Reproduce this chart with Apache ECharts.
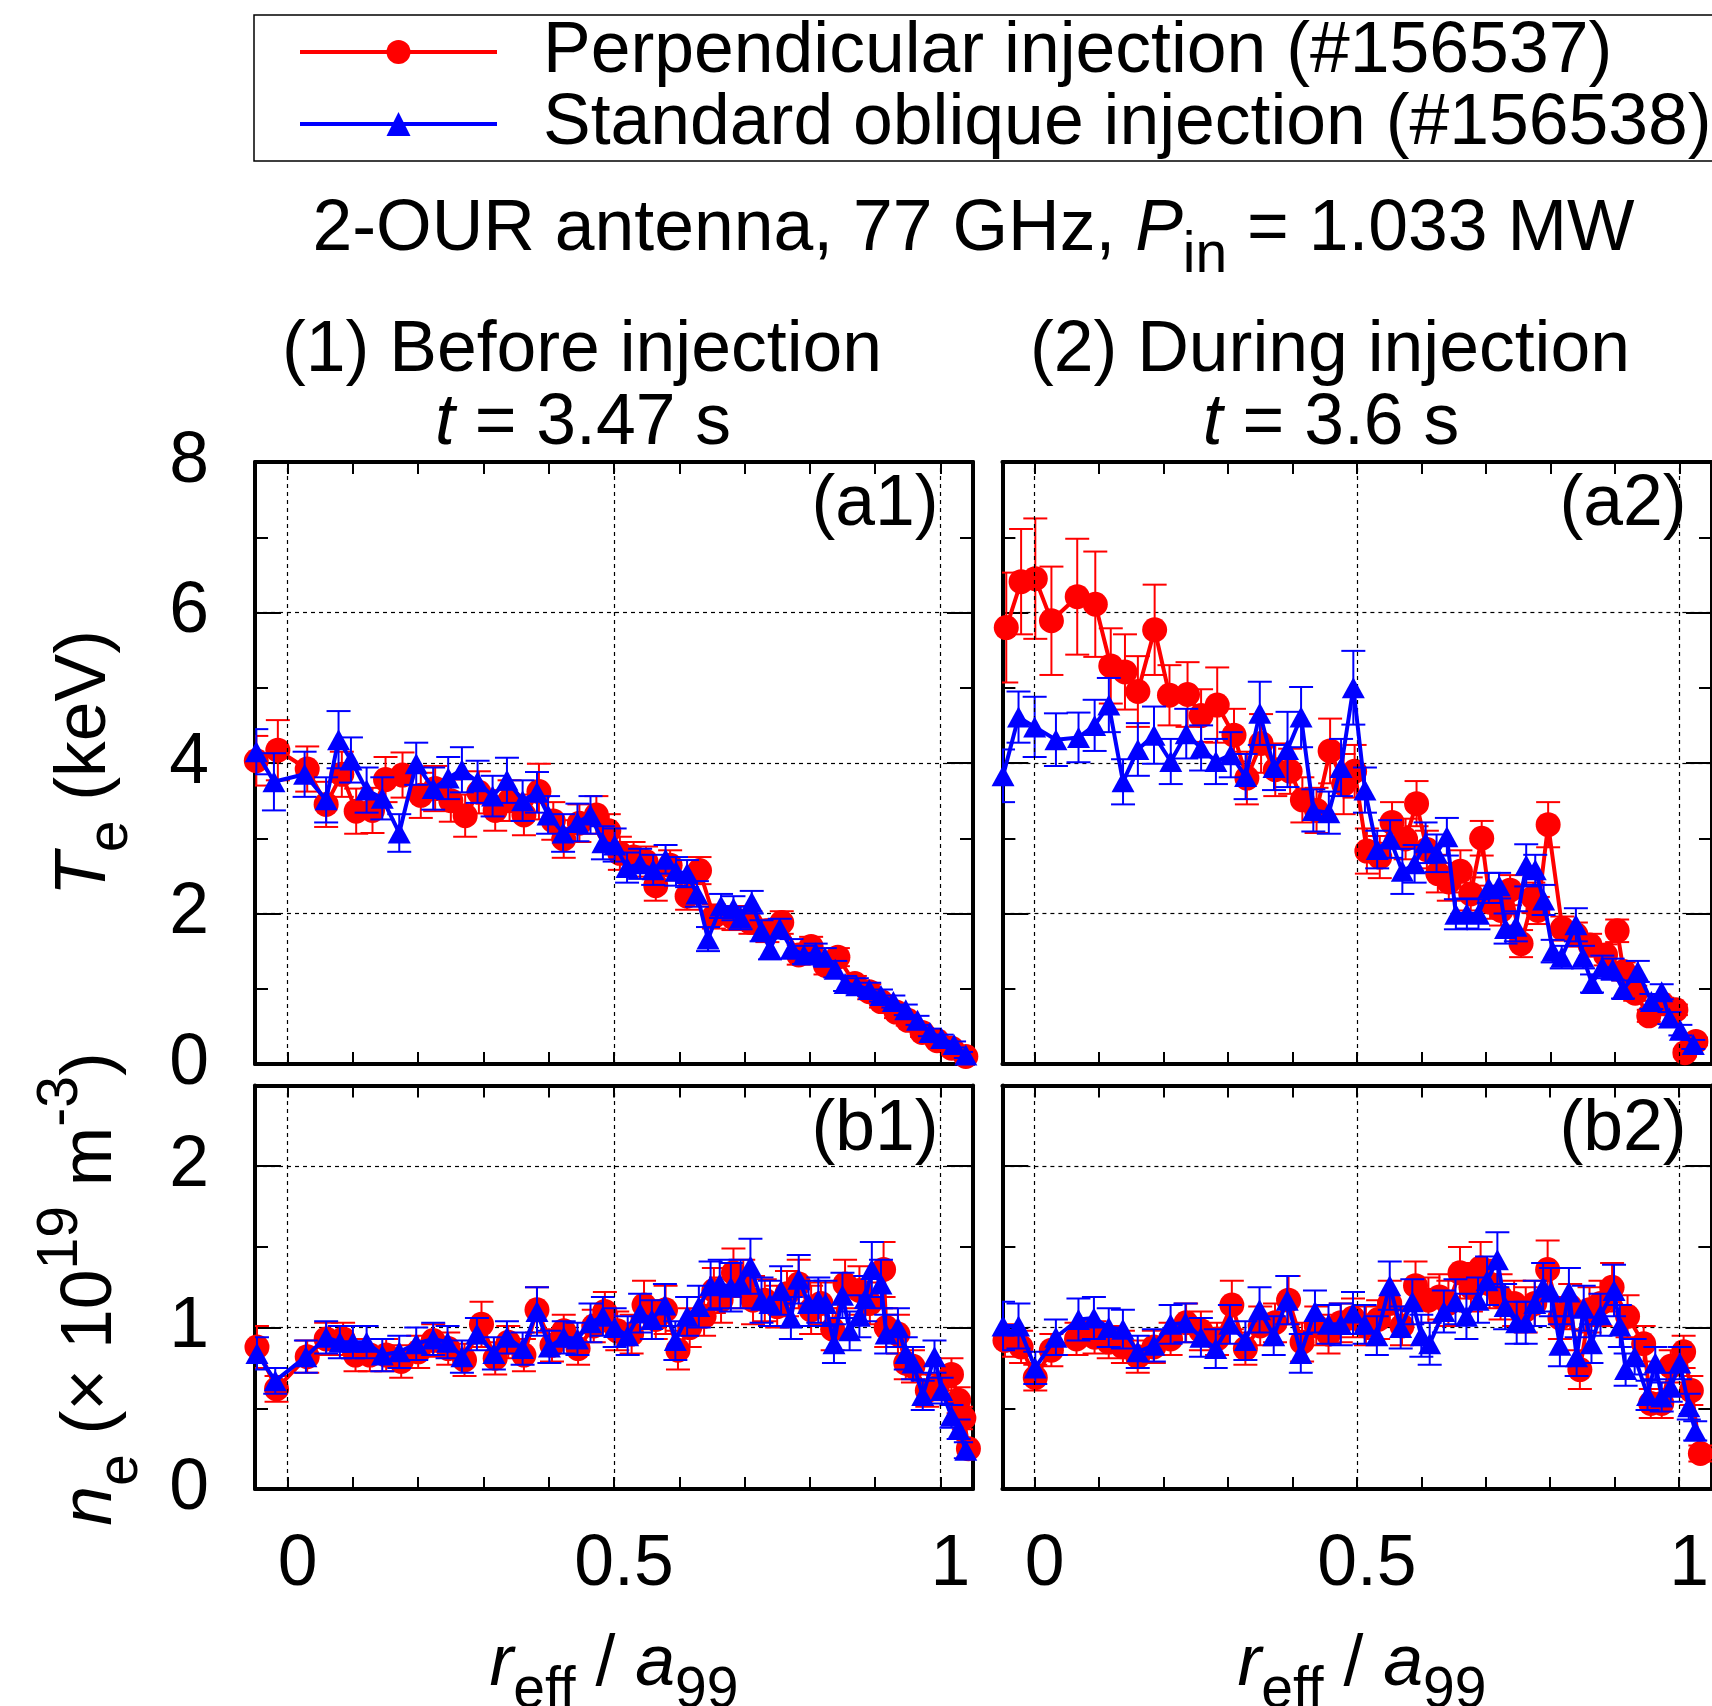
<!DOCTYPE html>
<html style="height: 100%">
<head>
<meta charset="utf-8">
<title></title>
<script type="text/javascript" src="https://cdn.jsdelivr.net/npm/echarts@6/dist/echarts.min.js"></script>
</head>
<body style="height: 100%; margin: 0">
<div id="container" style="width: 1712px; height: 1706px"></div>
<script type="text/javascript">
var FONT = 'Liberation Sans, Arial, Helvetica, sans-serif';
var FS = 71.5;
var RED = '#ff0000', BLUE = '#0000ff';
var redName = 'Perpendicular injection (#156537)';
var blueName = 'Standard oblique injection (#156538)';

// [r_eff/a99, value, error]
var teBeforeRed = [[-0.048,4.03,0.33],[-0.015,4.17,0.4],[0.03,3.92,0.3],[0.059,3.45,0.3],[0.083,3.85,0.3],[0.105,3.36,0.3],[0.13,3.37,0.3],[0.15,3.78,0.3],[0.176,3.84,0.3],[0.204,3.57,0.3],[0.226,3.66,0.3],[0.25,3.5,0.28],[0.272,3.3,0.28],[0.293,3.61,0.28],[0.318,3.37,0.27],[0.34,3.5,0.27],[0.362,3.31,0.27],[0.385,3.62,0.37],[0.407,3.23,0.25],[0.423,2.99,0.25],[0.447,3.2,0.25],[0.473,3.31,0.25],[0.492,3.1,0.22],[0.509,2.8,0.22],[0.53,2.75,0.2],[0.549,2.69,0.2],[0.564,2.37,0.2],[0.586,2.64,0.2],[0.612,2.23,0.18],[0.631,2.57,0.18],[0.653,1.96,0.16],[0.683,1.94,0.16],[0.709,1.88,0.15],[0.735,1.77,0.15],[0.757,1.88,0.15],[0.783,1.45,0.13],[0.802,1.56,0.13],[0.824,1.31,0.12],[0.843,1.42,0.12],[0.869,1.07,0.1],[0.891,0.96,0.1],[0.909,0.83,0.08],[0.932,0.69,0.08],[0.95,0.58,0.07],[0.972,0.42,0.06],[0.995,0.31,0.05],[1.017,0.21,0.05],[1.039,0.1,0.04]];
var teBeforeBlue = [[-0.048,4.15,0.3],[-0.021,3.75,0.38],[0.026,3.85,0.3],[0.059,3.51,0.3],[0.078,4.31,0.38],[0.097,4.04,0.3],[0.121,3.64,0.3],[0.145,3.53,0.28],[0.171,3.07,0.25],[0.197,3.99,0.28],[0.223,3.66,0.28],[0.246,3.8,0.28],[0.267,3.91,0.3],[0.291,3.75,0.28],[0.314,3.56,0.27],[0.336,3.77,0.3],[0.36,3.5,0.27],[0.382,3.61,0.27],[0.399,3.31,0.25],[0.422,3.07,0.25],[0.444,3.21,0.25],[0.464,3.31,0.25],[0.483,2.94,0.22],[0.501,2.91,0.22],[0.52,2.61,0.2],[0.54,2.66,0.2],[0.56,2.58,0.2],[0.579,2.72,0.19],[0.595,2.56,0.19],[0.612,2.53,0.18],[0.627,2.26,0.17],[0.644,1.66,0.16],[0.664,2.1,0.16],[0.683,2.07,0.16],[0.694,1.94,0.15],[0.711,2.15,0.15],[0.726,1.77,0.14],[0.739,1.53,0.14],[0.754,1.8,0.13],[0.772,1.53,0.13],[0.791,1.45,0.12],[0.809,1.48,0.12],[0.823,1.42,0.12],[0.839,1.26,0.11],[0.854,1.07,0.1],[0.872,1.04,0.1],[0.891,0.99,0.09],[0.909,0.91,0.08],[0.928,0.83,0.08],[0.947,0.72,0.07],[0.965,0.58,0.06],[0.984,0.42,0.05],[1.002,0.34,0.05],[1.021,0.26,0.04],[1.039,0.12,0.04]];
var teDuringRed = [[-0.044,5.8,0.73],[-0.021,6.41,0.7],[0.001,6.45,0.8],[0.026,5.89,0.72],[0.066,6.21,0.77],[0.094,6.11,0.7],[0.118,5.29,0.5],[0.14,5.21,0.5],[0.16,4.95,0.47],[0.186,5.77,0.6],[0.209,4.9,0.4],[0.237,4.91,0.43],[0.258,4.63,0.35],[0.283,4.77,0.5],[0.309,4.37,0.35],[0.329,3.8,0.35],[0.351,4.26,0.39],[0.373,3.91,0.35],[0.396,3.89,0.3],[0.415,3.51,0.3],[0.437,3.37,0.3],[0.458,4.16,0.43],[0.479,3.72,0.4],[0.496,3.89,0.35],[0.515,2.83,0.3],[0.535,2.75,0.28],[0.554,3.21,0.27],[0.575,2.99,0.27],[0.592,3.46,0.3],[0.608,2.85,0.25],[0.625,2.53,0.25],[0.642,2.42,0.25],[0.66,2.56,0.28],[0.676,2.26,0.22],[0.693,3.0,0.23],[0.706,2.15,0.22],[0.723,2.04,0.2],[0.737,2.31,0.2],[0.754,1.6,0.18],[0.773,2.21,0.2],[0.78,2.04,0.18],[0.796,3.18,0.3],[0.818,1.8,0.16],[0.839,1.72,0.16],[0.861,1.58,0.15],[0.885,1.45,0.14],[0.903,1.77,0.15],[0.913,1.23,0.12],[0.931,0.94,0.1],[0.952,0.64,0.08],[0.973,0.8,0.08],[0.994,0.72,0.07],[1.008,0.15,0.05],[1.025,0.3,0.05]];
var teDuringBlue = [[-0.049,3.83,0.35],[-0.025,4.61,0.34],[0.0,4.48,0.4],[0.033,4.31,0.35],[0.068,4.34,0.33],[0.093,4.5,0.34],[0.115,4.77,0.36],[0.137,3.75,0.3],[0.16,4.18,0.35],[0.185,4.37,0.38],[0.211,4.02,0.3],[0.235,4.39,0.33],[0.258,4.2,0.3],[0.281,4.02,0.3],[0.304,4.11,0.3],[0.327,3.82,0.3],[0.349,4.66,0.42],[0.371,3.94,0.3],[0.392,4.18,0.5],[0.413,4.61,0.4],[0.432,3.37,0.28],[0.456,3.34,0.28],[0.475,3.94,0.38],[0.494,5.0,0.49],[0.512,3.64,0.3],[0.531,2.85,0.25],[0.551,2.99,0.25],[0.57,2.56,0.3],[0.589,2.66,0.25],[0.606,2.94,0.27],[0.623,2.8,0.25],[0.639,3.02,0.25],[0.653,1.99,0.2],[0.67,2.0,0.2],[0.688,1.99,0.2],[0.704,2.34,0.2],[0.72,2.37,0.17],[0.73,1.8,0.2],[0.746,1.83,0.2],[0.762,2.64,0.28],[0.776,2.58,0.2],[0.789,2.18,0.2],[0.803,1.5,0.15],[0.817,1.42,0.15],[0.839,1.85,0.22],[0.85,1.42,0.15],[0.864,1.07,0.12],[0.88,1.29,0.15],[0.896,1.26,0.14],[0.912,0.99,0.12],[0.935,1.23,0.14],[0.956,0.83,0.1],[0.972,0.96,0.1],[0.984,0.61,0.08],[1.001,0.45,0.07],[1.021,0.26,0.06]];
var neBeforeRed = [[-0.047,0.88,0.13],[-0.017,0.62,0.08],[0.03,0.82,0.1],[0.059,0.93,0.1],[0.085,0.93,0.1],[0.104,0.83,0.1],[0.126,0.83,0.1],[0.151,0.83,0.1],[0.174,0.79,0.1],[0.2,0.85,0.1],[0.223,0.92,0.1],[0.246,0.87,0.1],[0.271,0.8,0.1],[0.297,1.02,0.14],[0.318,0.81,0.1],[0.338,0.91,0.1],[0.362,0.83,0.1],[0.382,1.11,0.14],[0.405,0.89,0.1],[0.423,0.98,0.1],[0.445,0.87,0.1],[0.469,1.01,0.1],[0.486,1.1,0.12],[0.505,0.98,0.12],[0.527,0.96,0.12],[0.546,1.14,0.15],[0.564,1.05,0.12],[0.579,1.11,0.15],[0.598,0.86,0.12],[0.616,1.0,0.12],[0.638,1.07,0.12],[0.653,1.23,0.14],[0.664,1.17,0.14],[0.683,1.34,0.15],[0.698,1.27,0.15],[0.713,1.17,0.15],[0.731,1.17,0.13],[0.75,1.13,0.13],[0.765,1.21,0.14],[0.783,1.27,0.15],[0.802,1.11,0.15],[0.817,1.15,0.13],[0.835,0.99,0.13],[0.854,1.27,0.15],[0.876,1.23,0.15],[0.892,1.15,0.13],[0.913,1.36,0.17],[0.917,1.0,0.12],[0.935,0.96,0.12],[0.947,0.78,0.1],[0.958,0.76,0.1],[0.98,0.61,0.1],[0.995,0.63,0.08],[1.017,0.71,0.1],[1.028,0.55,0.08],[1.036,0.44,0.07],[1.043,0.25,0.05]];
var neBeforeBlue = [[-0.047,0.84,0.1],[-0.019,0.67,0.08],[0.028,0.82,0.1],[0.059,0.94,0.1],[0.08,0.91,0.1],[0.1,0.91,0.1],[0.121,0.91,0.1],[0.145,0.83,0.1],[0.171,0.85,0.1],[0.197,0.9,0.1],[0.223,0.93,0.1],[0.245,0.91,0.1],[0.267,0.82,0.1],[0.29,0.96,0.1],[0.316,0.84,0.1],[0.336,0.94,0.1],[0.36,0.87,0.1],[0.382,1.1,0.15],[0.401,0.88,0.1],[0.423,0.94,0.1],[0.444,0.93,0.1],[0.464,1.03,0.12],[0.483,1.07,0.12],[0.501,1.0,0.12],[0.521,0.95,0.12],[0.54,1.09,0.12],[0.558,1.05,0.12],[0.578,1.14,0.13],[0.594,0.92,0.12],[0.612,1.07,0.12],[0.63,1.13,0.13],[0.648,1.26,0.15],[0.662,1.27,0.15],[0.679,1.25,0.15],[0.694,1.27,0.15],[0.709,1.38,0.17],[0.726,1.17,0.14],[0.739,1.15,0.14],[0.756,1.23,0.15],[0.771,1.06,0.13],[0.783,1.3,0.15],[0.798,1.15,0.14],[0.813,1.17,0.14],[0.824,1.15,0.14],[0.837,0.9,0.12],[0.85,1.2,0.14],[0.861,0.98,0.12],[0.876,1.07,0.13],[0.885,1.18,0.14],[0.895,1.36,0.17],[0.909,1.27,0.15],[0.917,0.96,0.12],[0.935,1.0,0.12],[0.947,0.84,0.1],[0.958,0.78,0.1],[0.973,0.58,0.09],[0.991,0.82,0.1],[1.002,0.61,0.08],[1.017,0.45,0.07],[1.028,0.37,0.06],[1.039,0.24,0.05]];
var neDuringRed = [[-0.046,0.92,0.1],[-0.021,0.88,0.1],[0.001,0.69,0.08],[0.026,0.86,0.1],[0.065,0.93,0.1],[0.093,0.94,0.1],[0.115,0.91,0.1],[0.137,0.88,0.1],[0.16,0.82,0.1],[0.185,0.88,0.1],[0.211,0.93,0.1],[0.235,1.03,0.12],[0.258,0.98,0.12],[0.283,0.93,0.1],[0.306,1.14,0.15],[0.327,0.87,0.1],[0.35,1.01,0.12],[0.373,1.03,0.12],[0.394,1.17,0.15],[0.415,0.91,0.12],[0.437,1.01,0.12],[0.456,0.96,0.12],[0.475,1.03,0.12],[0.494,1.06,0.12],[0.514,1.01,0.12],[0.533,1.05,0.12],[0.551,1.15,0.14],[0.57,1.01,0.12],[0.591,1.26,0.15],[0.611,1.17,0.14],[0.628,1.19,0.14],[0.642,1.15,0.14],[0.66,1.34,0.16],[0.677,1.25,0.15],[0.692,1.37,0.16],[0.706,1.27,0.15],[0.723,1.19,0.14],[0.744,1.15,0.14],[0.762,1.11,0.14],[0.776,1.15,0.14],[0.796,1.36,0.18],[0.815,1.06,0.13],[0.831,1.13,0.14],[0.846,0.74,0.12],[0.861,1.11,0.14],[0.878,1.15,0.14],[0.896,1.25,0.15],[0.92,1.07,0.13],[0.945,0.9,0.11],[0.956,0.53,0.09],[0.973,0.53,0.09],[0.987,0.76,0.1],[1.007,0.85,0.1],[1.019,0.61,0.09],[1.033,0.22,0.05]];
var neDuringBlue = [[-0.049,1.01,0.15],[-0.025,1.01,0.14],[0.001,0.75,0.1],[0.033,0.94,0.11],[0.068,1.05,0.13],[0.092,1.06,0.13],[0.115,1.0,0.12],[0.137,0.99,0.12],[0.16,0.85,0.1],[0.185,0.89,0.1],[0.211,1.02,0.12],[0.234,1.03,0.12],[0.258,0.94,0.12],[0.281,0.87,0.12],[0.303,1.02,0.12],[0.327,0.92,0.12],[0.349,1.11,0.14],[0.371,0.95,0.12],[0.392,1.17,0.15],[0.413,0.84,0.12],[0.435,1.1,0.13],[0.456,1.02,0.12],[0.475,1.02,0.13],[0.494,1.09,0.13],[0.512,1.02,0.12],[0.531,0.95,0.12],[0.551,1.26,0.15],[0.568,1.0,0.13],[0.586,1.16,0.14],[0.6,0.95,0.13],[0.613,0.9,0.13],[0.635,1.1,0.13],[0.653,1.16,0.14],[0.67,1.07,0.14],[0.688,1.17,0.14],[0.702,1.29,0.15],[0.718,1.42,0.17],[0.73,1.13,0.14],[0.748,1.03,0.13],[0.762,1.03,0.13],[0.776,1.15,0.14],[0.789,1.25,0.15],[0.801,1.22,0.15],[0.815,0.89,0.13],[0.829,1.22,0.15],[0.841,0.82,0.12],[0.852,1.12,0.14],[0.864,0.9,0.12],[0.878,1.08,0.13],[0.899,1.23,0.16],[0.908,1.01,0.13],[0.917,0.74,0.1],[0.931,0.82,0.11],[0.951,0.58,0.09],[0.963,0.78,0.1],[0.973,0.57,0.09],[0.987,0.63,0.09],[1.001,0.78,0.1],[1.015,0.51,0.08],[1.025,0.36,0.06]];

var xTicks = [0, 0.1, 0.2, 0.3, 0.4, 0.5, 0.6, 0.7, 0.8, 0.9, 1];
var xLabels = [0, 0.5, 1];
var xGrid = [0, 0.5, 1];
var teMajor = [0, 2, 4, 6, 8], teMinor = [1, 3, 5, 7];
var neMajor = [0, 1, 2], neMinor = [0.5, 1.5];

var panels = [
	{left: 255, top: 462, height: 602, max: 8, step: 2, major: teMajor, minor: teMinor, red: teBeforeRed, blue: teBeforeBlue, yLab: true, xLab: false},
	{left: 1002.4, top: 462, height: 602, max: 8, step: 2, major: teMajor, minor: teMinor, red: teDuringRed, blue: teDuringBlue, yLab: false, xLab: false},
	{left: 255, top: 1085.5, height: 403.5, max: 2.5, step: 1, major: neMajor, minor: neMinor, red: neBeforeRed, blue: neBeforeBlue, yLab: true, xLab: true},
	{left: 1002.4, top: 1085.5, height: 403.5, max: 2.5, step: 1, major: neMajor, minor: neMinor, red: neDuringRed, blue: neDuringBlue, yLab: false, xLab: true}
];

var labelStyle = {fontSize: FS, fontFamily: FONT, color: '#000'};
var grids = [], xAxes = [], yAxes = [], series = [];

function xAxisOf(i, pos, showLabel) {
	return {
		gridIndex: i, type: 'value', min: -0.05, max: 1.05, position: pos,
		axisLine: {show: true, onZero: false, lineStyle: {color: '#000', width: 4}},
		axisTick: {show: true, inside: true, length: 12, customValues: xTicks, lineStyle: {color: '#000', width: 2}},
		axisLabel: Object.assign({show: showLabel, customValues: xLabels, margin: 40, padding: [0, 0, 0, 20], interval: 0}, labelStyle),
		splitLine: {show: false}
	};
}

function yAxisOf(i, p, pos, minor, showLabel) {
	return {
		gridIndex: i, type: 'value', min: 0, max: p.max, interval: p.step, position: pos,
		axisLine: {show: !minor, onZero: false, lineStyle: {color: '#000', width: 4}},
		axisTick: {show: true, inside: true, length: minor ? 13 : 26, customValues: minor ? p.minor : p.major, lineStyle: {color: '#000', width: 2}},
		axisLabel: Object.assign({show: showLabel, customValues: p.major, margin: 46, padding: [9, 0, 0, 0], interval: 0}, labelStyle),
		splitLine: {show: !minor && pos === 'left', lineStyle: {color: '#000', width: 1.2, type: [4, 4]}}
	};
}

function errSeries(data, color, i, z) {
	return {
		type: 'custom', xAxisIndex: 2 * i, yAxisIndex: 4 * i, z: z, clip: true, silent: true,
		encode: {x: 0, y: 1},
		data: data,
		renderItem: function (params, api) {
			var x = api.value(0), y = api.value(1), e = api.value(2);
			var lo = api.coord([x, y - e]);
			var hi = api.coord([x, y + e]);
			var hw = 12;
			var st = {stroke: color, lineWidth: 2};
			return {type: 'group', children: [
				{type: 'line', shape: {x1: lo[0], y1: lo[1], x2: hi[0], y2: hi[1]}, style: st},
				{type: 'line', shape: {x1: lo[0] - hw, y1: lo[1], x2: lo[0] + hw, y2: lo[1]}, style: st},
				{type: 'line', shape: {x1: hi[0] - hw, y1: hi[1], x2: hi[0] + hw, y2: hi[1]}, style: st}
			]};
		}
	};
}

function lineSeries(name, data, color, symbol, size, i, z) {
	return {
		name: name, type: 'line', xAxisIndex: 2 * i, yAxisIndex: 4 * i, z: z, silent: true,
		data: data.map(function (d) { return [d[0], d[1]]; }),
		symbol: symbol, symbolSize: size, showAllSymbol: true,
		color: color,
		itemStyle: {color: color},
		lineStyle: {color: color, width: 4}
	};
}

panels.forEach(function (p, i) {
	grids.push({left: p.left, top: p.top, width: 718, height: p.height});
	xAxes.push(xAxisOf(i, 'bottom', p.xLab));
	xAxes.push(xAxisOf(i, 'top', false));
	yAxes.push(yAxisOf(i, p, 'left', false, p.yLab));
	yAxes.push(yAxisOf(i, p, 'left', true, false));
	yAxes.push(yAxisOf(i, p, 'right', false, false));
	yAxes.push(yAxisOf(i, p, 'right', true, false));
	series.push({
		type: 'line', xAxisIndex: 2 * i, yAxisIndex: 4 * i, z: 1, silent: true, data: [],
		markLine: {
			symbol: ['none', 'none'], silent: true, label: {show: false},
			lineStyle: {color: '#000', width: 1.2, type: [4, 4]},
			data: xGrid.map(function (v) { return {xAxis: v}; })
		}
	});
	series.push(errSeries(p.red, RED, i, 2));
	series.push(lineSeries(redName, p.red, RED, 'circle', 25, i, 3));
	series.push(errSeries(p.blue, BLUE, i, 4));
	series.push(lineSeries(blueName, p.blue, BLUE, 'triangle', [23, 21], i, 5));
});

function richSet(lh) {
	return {
		n: {fontSize: FS, fontFamily: FONT, lineHeight: lh},
		i: {fontSize: FS, fontFamily: FONT, fontStyle: 'italic', lineHeight: lh},
		s: {fontSize: 57, fontFamily: FONT, lineHeight: 20, verticalAlign: 'bottom'},
		p: {fontSize: 57, fontFamily: FONT, lineHeight: 20, verticalAlign: 'top'}
	};
}

function txt(x, y, text, rich, rot) {
	return {
		type: 'text', x: x, y: y, rotation: rot || 0, silent: true,
		style: {
			text: text, rich: rich, fill: '#000', font: FS + 'px ' + FONT,
			align: 'center', verticalAlign: 'middle', textAlign: 'center', textVerticalAlign: 'middle'
		}
	};
}

var r110 = richSet(110);
var r117 = richSet(117);
var graphics = [
	txt(973.5, 230, '{n|2-OUR antenna, 77 GHz, }{i|P}{s|in}{n| = 1.033 MW}', r110),
	txt(582, 351, '{n|(1) Before injection}', r110),
	txt(583, 424, '{i|t}{n| = 3.47 s}', r110),
	txt(1330, 351, '{n|(2) During injection}', r110),
	txt(1331, 424, '{i|t}{n| = 3.6 s}', r110),
	txt(875, 505, '{n|(a1)}', r110),
	txt(1623, 505, '{n|(a2)}', r110),
	txt(875, 1130, '{n|(b1)}', r110),
	txt(1623, 1130, '{n|(b2)}', r110),
	txt(614, 1665, '{i|r}{s|eff}{n| / }{i|a}{s|99}', r110),
	txt(1362, 1665, '{i|r}{s|eff}{n| / }{i|a}{s|99}', r110),
	txt(85, 763, '{i|T}{s|e}{n| (keV)}', r110, Math.PI / 2),
	txt(91, 1289, '{i|n}{s|e}{n| (× 10}{p|19}{n| m}{p|-3}{n|)}', r117, Math.PI / 2)
];

var myChart = echarts.init(document.getElementById('container'));
var option = {
	animation: false,
	backgroundColor: '#fff',
	legend: {
		orient: 'vertical', left: 254, top: 15,
		data: [redName, blueName],
		itemWidth: 197, itemHeight: 30, itemGap: 0,
		padding: [1, 40, 1, 44],
		borderColor: '#000', borderWidth: 1.5,
		selectedMode: false,
		lineStyle: {width: 4},
		textStyle: {fontSize: FS, fontFamily: FONT, color: '#000', lineHeight: 68, padding: [3, 0, 0, 41]}
	},
	grid: grids,
	xAxis: xAxes,
	yAxis: yAxes,
	series: series,
	graphic: graphics
};
myChart.setOption(option);
</script>
</body>
</html>
